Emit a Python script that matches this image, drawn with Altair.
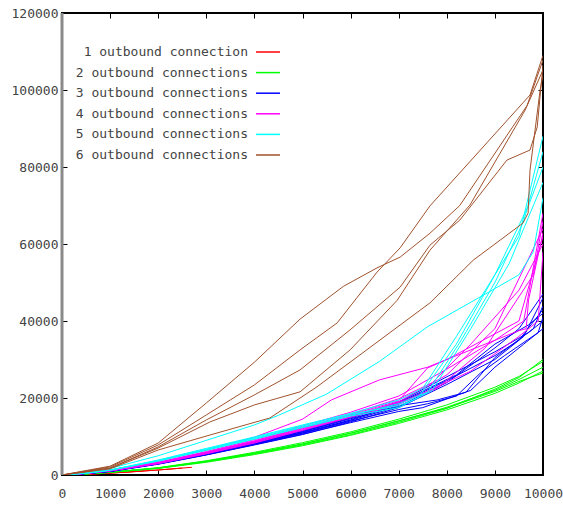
import altair as alt
import pandas as pd

SERIES = ["1 outbound connection", "2 outbound connections", "3 outbound connections",
          "4 outbound connections", "5 outbound connections", "6 outbound connections"]
COLORS = ["#ff0000", "#00ff00", "#0000ff", "#ff00ff", "#00ffff", "#a0522d"]

X_TICKS = [0, 1000, 2000, 3000, 4000, 5000, 6000, 7000, 8000, 9000, 10000]
Y_TICKS = [0, 20000, 40000, 60000, 80000, 100000, 120000]

# 1 outbound connection
red_x = [[0, 500, 1000, 1500, 2000, 2700],
         [0, 600, 1200, 1700],
         [0, 700, 1400, 2100, 2500]]
red_y = [[0, 200, 500, 850, 1300, 2000],
         [0, 250, 650, 1100],
         [0, 300, 800, 1400, 1800]]

# 2 outbound connections
gx = [0, 500, 1000, 2000, 3000, 4000, 5000, 6000, 7000, 8000, 9000, 9500, 10000]
green_x = [gx, gx, gx, gx, gx]
green_y = [[0, 300, 700, 1800, 3500, 5600, 8000, 10800, 14000, 17600, 22000, 24800, 28000],
           [0, 280, 650, 1700, 3300, 5300, 7600, 10300, 13400, 16900, 21200, 23900, 27000],
           [0, 320, 750, 1900, 3700, 5900, 8400, 11200, 14500, 18200, 22800, 25600, 29500],
           [0, 300, 700, 1850, 3600, 5700, 8100, 10900, 14100, 17400, 21700, 24300, 26500],
           [0, 310, 720, 1750, 3450, 5500, 7800, 10500, 13700, 17300, 22300, 25300, 30000]]

# 3 outbound connections
b0 = [0, 500, 1000, 2000, 3000, 4000, 5000, 6000, 7000]
blue_x = [b0 + [8000, 9000, 9500, 10000],
          b0 + [8000, 9000, 9600, 10000],
          b0 + [8000, 9000, 9700, 10000],
          b0 + [7600, 8200, 8700, 9200, 9900, 10000],
          b0 + [7500, 8500, 9000, 9600, 10000],
          b0 + [7800, 8400, 9000, 9800, 10000],
          b0 + [8000, 9000, 9500, 10000],
          b0 + [8200, 9000, 9700, 10000]]
blue_y = [[0, 400, 1000, 3000, 5500, 8200, 11000, 14300, 18500, 24500, 31000, 35000, 43000],
          [0, 380, 900, 2800, 5200, 7800, 10500, 13800, 17500, 23500, 30000, 36000, 46000],
          [0, 420, 1100, 3200, 5800, 8600, 11500, 15000, 19000, 25500, 32000, 37000, 40000],
          [0, 400, 950, 2900, 5300, 8000, 10800, 14000, 17000, 18500, 20500, 26500, 31000, 37000, 41000],
          [0, 390, 920, 2850, 5250, 7900, 10600, 13600, 16500, 17500, 22000, 28000, 34000, 38000],
          [0, 410, 1000, 3050, 5600, 8300, 11200, 14600, 18000, 19500, 21500, 30500, 38000, 44000],
          [0, 400, 980, 2950, 5450, 8100, 10900, 14200, 17800, 24000, 33000, 38000, 47000],
          [0, 410, 1020, 3100, 5700, 8400, 11300, 14800, 18800, 26000, 34000, 39000, 42000]]

# 4 outbound connections
magenta_x = [[0, 500, 1000, 2000, 3000, 4000, 5000, 5600, 6600, 7600, 8500, 9500, 9650, 9700, 10000],
             b0 + [7700, 8500, 9500, 10000],
             b0 + [8000, 9000, 10000],
             b0 + [7800, 8800, 9800, 10000],
             b0 + [8500, 9500, 9900, 10000],
             b0 + [8000, 9000, 9600, 10000],
             b0 + [7600, 8000, 9500, 10000]]
magenta_y = [[0, 500, 1300, 3600, 6500, 9800, 14500, 19500, 24700, 28000, 32500, 37500, 38000, 45500, 63000],
             [0, 450, 1150, 3200, 5900, 8900, 12300, 15800, 19800, 24000, 34000, 48000, 60000],
             [0, 430, 1100, 3000, 5600, 8500, 11800, 15200, 19000, 26000, 38000, 64000],
             [0, 440, 1100, 3100, 5700, 8700, 12000, 15400, 18800, 22500, 33000, 52000, 66000],
             [0, 420, 1050, 2950, 5500, 8300, 11600, 15000, 18300, 27000, 36000, 40000, 58000],
             [0, 460, 1200, 3300, 6100, 9200, 12700, 16300, 20500, 27500, 35000, 40000, 68000],
             [0, 440, 1120, 3150, 5800, 8800, 12200, 15600, 19300, 27800, 30000, 40000, 62000]]

# 5 outbound connections
cyan_x = [[0, 500, 1000, 2000, 3000, 4000, 4500, 5500, 6600, 7600, 8800, 9500, 9800, 10000],
          b0 + [7500, 8200, 8900, 9500, 10000],
          b0 + [7600, 8300, 9000, 9600, 10000],
          b0 + [7400, 8200, 9000, 9700, 10000],
          b0 + [7700, 8500, 9300, 10000]]
cyan_y = [[0, 600, 1700, 5000, 9000, 13000, 15500, 21000, 29500, 38500, 47000, 52000, 58000, 72000],
          [0, 500, 1300, 3900, 6900, 9900, 13000, 16000, 19500, 22500, 36000, 50000, 62000, 88000],
          [0, 480, 1250, 3700, 6600, 9500, 12500, 15500, 18500, 21500, 35000, 50000, 66000, 84000],
          [0, 490, 1280, 3800, 6700, 9700, 12800, 15800, 18000, 20000, 34000, 52000, 70000, 80000],
          [0, 470, 1220, 3600, 6400, 9300, 12300, 15300, 17500, 22000, 38000, 55000, 76000]]

# 6 outbound connections
brown_x = [[0, 1000, 2000, 3000, 4000, 4950, 5850, 6550, 7030, 7650, 8270, 9670, 10000],
           [0, 1000, 2000, 3000, 4000, 4950, 5720, 6550, 7030, 7650, 9730, 10000],
           [0, 1000, 2000, 3000, 4000, 4950, 5990, 7030, 7650, 8270, 9250, 9730, 9880, 10000],
           [0, 1000, 2000, 3080, 4000, 4950, 5990, 6970, 7650, 8480, 9630, 10000],
           [0, 1000, 2000, 3080, 4320, 5300, 7650, 8550, 9580, 9690, 9730, 9940, 10000]]
brown_y = [[0, 2300, 8300, 18700, 29300, 40500, 49000, 53800, 56600, 62800, 70000, 96000, 107800],
           [0, 2100, 7800, 15600, 23400, 32500, 39500, 52700, 59000, 69900, 98700, 109000],
           [0, 1800, 7300, 14300, 20800, 27300, 37700, 48800, 59700, 66200, 81800, 84400, 90400, 106500],
           [0, 1800, 7000, 13800, 18200, 21600, 32500, 45400, 58400, 70100, 94800, 105200],
           [0, 1600, 6500, 10400, 14800, 22900, 44700, 55800, 65400, 68000, 79200, 100000, 103900]]

groups = [(red_x, red_y), (green_x, green_y), (blue_x, blue_y),
          (magenta_x, magenta_y), (cyan_x, cyan_y), (brown_x, brown_y)]

rows = []
for si, (xs_list, ys_list) in enumerate(groups):
    for ri, (xs, ys) in enumerate(zip(xs_list, ys_list)):
        for k, (xv, yv) in enumerate(zip(xs, ys)):
            rows.append({"series": SERIES[si], "run": f"{si}-{ri:02d}",
                         "x": xv, "y": yv, "k": k})
df = pd.DataFrame(rows)

FONT = "DejaVu Sans Mono"
TXT = "#444444"

xscale = alt.Scale(domain=[0, 10000], nice=False, zero=False)
yscale = alt.Scale(domain=[0, 120000], nice=False, zero=False)

lines = alt.Chart(df).mark_line(strokeWidth=1, clip=True).encode(
    x=alt.X("x:Q", scale=xscale, title=None,
            axis=alt.Axis(orient="bottom", values=X_TICKS, format="d", grid=False,
                          domain=False, ticks=True, tickSize=5, offset=-5,
                          tickColor="#000000", labelPadding=12, labelFlush=False,
                          labelFont=FONT, labelFontSize=13, labelColor=TXT)),
    y=alt.Y("y:Q", scale=yscale, title=None,
            axis=alt.Axis(orient="left", values=Y_TICKS, format="d", grid=False,
                          domain=False, ticks=True, tickSize=5, offset=-5,
                          tickColor="#000000", labelPadding=4, labelFlush=False,
                          labelFont=FONT, labelFontSize=13, labelColor=TXT)),
    color=alt.Color("series:N", scale=alt.Scale(domain=SERIES, range=COLORS),
                    legend=alt.Legend(title=None, orient="none", legendX=193, legendY=26,
                                      padding=0, symbolType="stroke", symbolSize=576,
                                      symbolStrokeWidth=1.5, labelAlign="right",
                                      labelOffset={"expr": "-33"}, labelFont=FONT,
                                      labelFontSize=13, labelColor=TXT, rowPadding=0.6,
                                      labelLimit=0)),
    detail="run:N",
    order="k:Q",
)

frame = alt.Chart(pd.DataFrame({"x": [0], "y": [0]})).mark_point(opacity=0).encode(
    x=alt.X("x:Q", scale=xscale, title=None,
            axis=alt.Axis(orient="top", values=X_TICKS, labels=False, grid=False,
                          domain=False, ticks=True, tickSize=5, offset=-5,
                          tickColor="#000000")),
    y=alt.Y("y:Q", scale=yscale, title=None,
            axis=alt.Axis(orient="right", values=Y_TICKS, labels=False, grid=False,
                          domain=False, ticks=True, tickSize=5, offset=-5,
                          tickColor="#000000")),
)

left_border = alt.Chart(pd.DataFrame({"x": [0]})).mark_rule(
    color="#8a8a8a", strokeWidth=3
).encode(x=alt.X("x:Q", scale=xscale, axis=None))

chart = alt.layer(lines, frame, left_border).resolve_axis(
    x="independent", y="independent"
).properties(
    width=481, height=462,
    padding={"left": 62, "top": 13, "right": 20, "bottom": 31},
    autosize=alt.AutoSizeParams(type="none"),
    background="#ffffff",
).configure_view(stroke="#000000", strokeWidth=2)

chart.save("out.html", embed_options={"renderer": "svg", "actions": False})
